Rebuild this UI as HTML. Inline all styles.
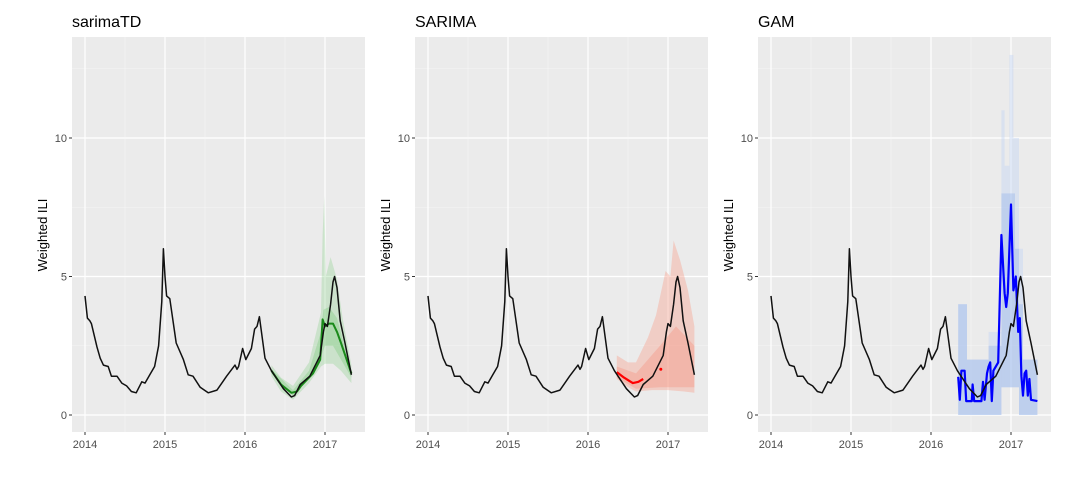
<!DOCTYPE html>
<html><head><meta charset="utf-8"><style>
body{margin:0;background:#fff;}
svg{display:block;font-family:"Liberation Sans",sans-serif;}
</style></head><body>
<svg id="s" width="1074" height="481" xmlns="http://www.w3.org/2000/svg"></svg>
<script>
const S=document.getElementById('s');
let h='';
const black=[[2014.0,4.3],[2014.03,3.5],[2014.06,3.4],[2014.08,3.3],[2014.15,2.45],[2014.19,2.05],[2014.23,1.8],[2014.29,1.75],[2014.33,1.4],[2014.40,1.4],[2014.46,1.15],[2014.52,1.05],[2014.58,0.85],[2014.64,0.8],[2014.71,1.2],[2014.75,1.15],[2014.81,1.45],[2014.87,1.75],[2014.92,2.5],[2014.96,4.1],[2014.98,6.0],[2015.0,5.0],[2015.02,4.3],[2015.06,4.2],[2015.14,2.6],[2015.23,2.0],[2015.29,1.45],[2015.35,1.4],[2015.44,1.0],[2015.54,0.8],[2015.65,0.9],[2015.77,1.4],[2015.875,1.8],[2015.9,1.65],[2015.92,1.75],[2015.97,2.4],[2016.01,2.0],[2016.08,2.4],[2016.12,3.1],[2016.15,3.2],[2016.18,3.55],[2016.25,2.05],[2016.33,1.6],[2016.48,0.95],[2016.58,0.65],[2016.62,0.7],[2016.69,1.1],[2016.81,1.4],[2016.94,2.15],[2016.98,3.0],[2017.0,3.3],[2017.03,3.2],[2017.07,4.0],[2017.1,4.8],[2017.12,5.0],[2017.15,4.6],[2017.19,3.4],[2017.25,2.6],[2017.33,1.45]];
function X(i,y){return 85+343*i+(y-2014)*80;}
function Y(v){return 415-v*27.7;}
function line(i,pts,col,w){return `<polyline fill="none" stroke="${col}" stroke-width="${w}" stroke-linejoin="round" points="${pts.map(p=>X(i,p[0]).toFixed(1)+','+Y(p[1]).toFixed(1)).join(' ')}"/>`;}
function band(i,up,lo,col){const pts=up.concat(lo.slice().reverse());return `<polygon fill="${col}" points="${pts.map(p=>X(i,p[0]).toFixed(1)+','+Y(p[1]).toFixed(1)).join(' ')}"/>`;}
const titles=['sarimaTD','SARIMA','GAM'];
for(let i=0;i<3;i++){
  const L=72+343*i;
  h+=`<rect x="${L}" y="37" width="293" height="395" fill="#ebebeb"/>`;
  [2.5,7.5,12.5].forEach(v=>h+=`<line x1="${L}" x2="${L+293}" y1="${Y(v)}" y2="${Y(v)}" stroke="#f5f5f5" stroke-width="0.6"/>`);
  [2014.5,2015.5,2016.5].forEach(v=>h+=`<line y1="37" y2="432" x1="${X(i,v)}" x2="${X(i,v)}" stroke="#f5f5f5" stroke-width="0.6"/>`);
  [0,5,10].forEach(v=>{h+=`<line x1="${L}" x2="${L+293}" y1="${Y(v)}" y2="${Y(v)}" stroke="#fff" stroke-width="1.2"/>`;
    h+=`<line x1="${L-3}" x2="${L}" y1="${Y(v)}" y2="${Y(v)}" stroke="#333" stroke-width="1"/>`;
    h+=`<text x="${L-5}" y="${Y(v)+4}" text-anchor="end" font-size="11" fill="#4d4d4d">${v}</text>`;});
  [2014,2015,2016,2017].forEach(v=>{h+=`<line y1="37" y2="432" x1="${X(i,v)}" x2="${X(i,v)}" stroke="#fff" stroke-width="1.2"/>`;
    h+=`<line y1="432" y2="435" x1="${X(i,v)}" x2="${X(i,v)}" stroke="#333"/>`;
    h+=`<text x="${X(i,v)}" y="448" text-anchor="middle" font-size="11" fill="#4d4d4d">${v}</text>`;});
  h+=`<text x="${L}" y="27" font-size="16" fill="#000">${titles[i]}</text>`;
  h+=`<text transform="translate(${L-25},235) rotate(-90)" text-anchor="middle" font-size="13" fill="#000">Weighted ILI</text>`;
}
// sarimaTD
h+=band(0,[[2016.33,1.8],[2016.45,1.35],[2016.6,1.05],[2016.8,1.9],[2016.95,3.7],[2016.97,6.5],[2016.99,7.9],[2017.01,5.0],[2017.07,5.7],[2017.15,4.9],[2017.22,3.5],[2017.33,1.8]],[[2016.33,1.4],[2016.45,0.85],[2016.6,0.55],[2016.8,1.15],[2016.95,1.75],[2017.0,1.85],[2017.1,1.85],[2017.2,1.6],[2017.33,1.15]],'rgba(130,205,130,0.3)');
h+=band(0,[[2016.33,1.65],[2016.6,0.9],[2016.8,1.6],[2016.95,3.0],[2016.98,3.8],[2017.05,3.9],[2017.15,3.5],[2017.25,2.4],[2017.33,1.6]],[[2016.33,1.5],[2016.6,0.7],[2016.8,1.35],[2016.95,2.1],[2017.0,2.5],[2017.1,2.5],[2017.2,2.0],[2017.33,1.35]],'rgba(110,195,110,0.3)');
h+=line(0,[[2016.33,1.6],[2016.45,1.1],[2016.58,0.8],[2016.65,0.85],[2016.7,1.05],[2016.85,1.5],[2016.94,2.0],[2016.97,3.45],[2017.0,3.2],[2017.05,3.3],[2017.1,3.3],[2017.15,3.0],[2017.2,2.6],[2017.33,1.5]],'#1a8a1a',2);
// SARIMA
h+=band(1,[[2016.36,2.15],[2016.5,1.9],[2016.6,1.9],[2016.75,2.8],[2016.85,3.6],[2016.97,5.2],[2017.03,5.0],[2017.07,6.3],[2017.15,5.6],[2017.25,4.5],[2017.33,3.2]],[[2016.36,1.3],[2016.5,1.0],[2016.6,0.85],[2016.8,0.9],[2017.0,0.9],[2017.2,0.85],[2017.33,0.8]],'rgba(248,160,140,0.4)');
h+=band(1,[[2016.36,1.75],[2016.6,1.5],[2016.9,2.5],[2017.1,3.2],[2017.33,2.5]],[[2016.36,1.35],[2016.6,0.95],[2016.9,1.0],[2017.1,1.0],[2017.33,1.0]],'rgba(245,140,120,0.35)');
h+=line(1,[[2016.36,1.55],[2016.45,1.35],[2016.56,1.15],[2016.63,1.2],[2016.69,1.3]],'#ff0000',2.2);
h+=`<circle cx="${X(1,2016.91)}" cy="${Y(1.65)}" r="1.5" fill="#f00"/>`;
// GAM
const gb=[[2016.34,2016.45,0,4],[2016.45,2016.72,0,2],[2016.72,2016.88,0,3],[2016.88,2016.92,1,11],[2016.92,2016.98,1,9],[2016.98,2017.03,1,13],[2017.03,2017.1,1,10],[2017.1,2017.15,0,6],[2017.15,2017.33,0,2]];
gb.forEach(b=>h+=`<rect x="${X(2,b[0])}" y="${Y(b[3])}" width="${(b[1]-b[0])*80}" height="${(b[3]-b[2])*27.7}" fill="rgba(190,210,245,0.4)"/>`);
const gi=[[2016.34,2016.45,0,4],[2016.45,2016.72,0,2],[2016.72,2016.88,0,2.5],[2016.88,2016.95,1,8],[2016.95,2017.05,1,8],[2017.05,2017.1,1,6],[2017.1,2017.15,0,4],[2017.15,2017.33,0,2]];
gi.forEach(b=>h+=`<rect x="${X(2,b[0])}" y="${Y(b[3])}" width="${(b[1]-b[0])*80}" height="${(b[3]-b[2])*27.7}" fill="rgba(150,180,235,0.4)"/>`);
h+=line(2,[[2016.34,1.38],[2016.36,0.55],[2016.38,1.6],[2016.42,1.6],[2016.44,0.5],[2016.51,0.5],[2016.52,1.1],[2016.54,0.5],[2016.63,0.5],[2016.65,1.2],[2016.67,0.55],[2016.70,1.5],[2016.72,1.75],[2016.74,1.9],[2016.76,0.5],[2016.78,1.6],[2016.84,1.9],[2016.88,6.5],[2016.92,4.4],[2016.94,3.9],[2016.96,4.4],[2017.0,7.6],[2017.03,4.5],[2017.06,5.0],[2017.09,3.0],[2017.11,3.5],[2017.13,1.4],[2017.15,0.7],[2017.17,1.5],[2017.19,1.6],[2017.21,0.7],[2017.23,1.3],[2017.25,0.55],[2017.33,0.5]],'#0000ff',2.2);
for(let i=0;i<3;i++)h+=line(i,black,'#111',1.5);
S.innerHTML=h;
</script>
</body></html>
